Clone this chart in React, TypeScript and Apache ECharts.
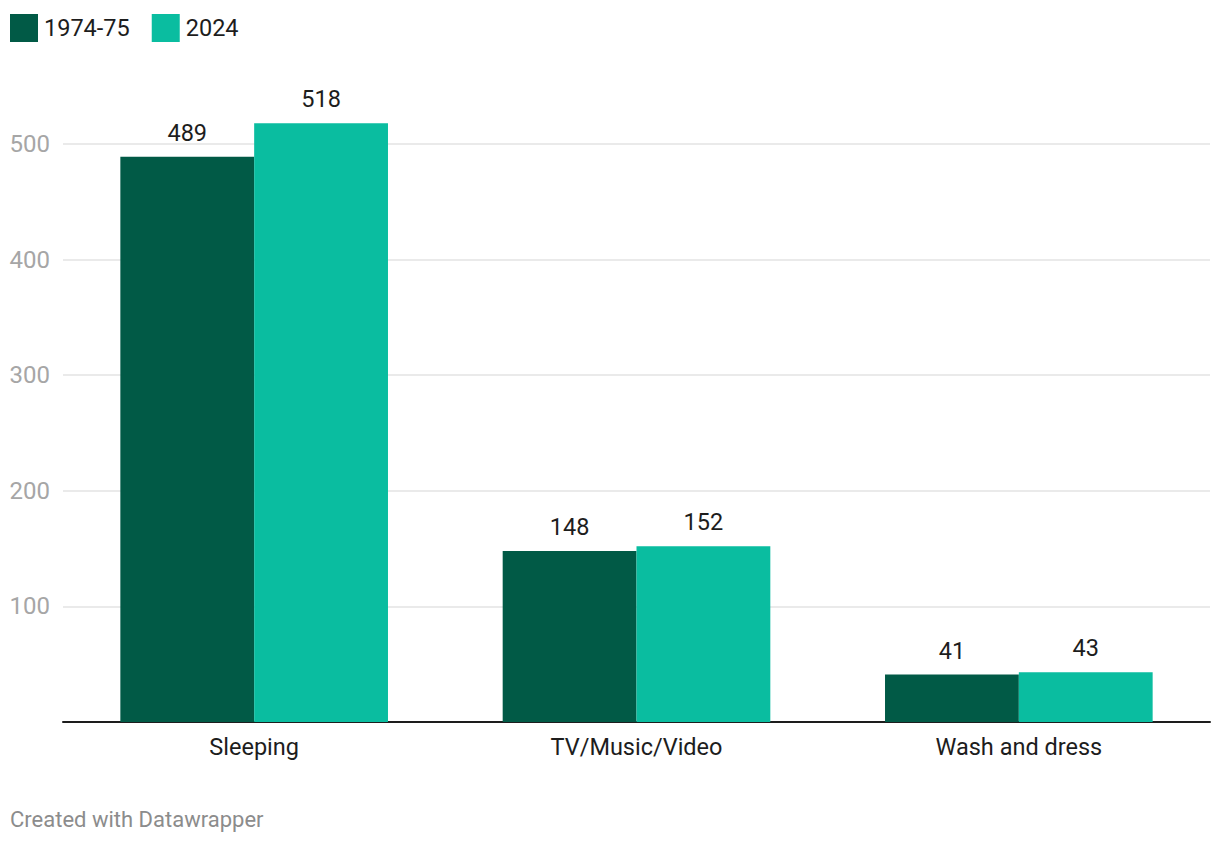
import React, { useEffect, useRef } from "react";
import * as echarts from "echarts";

const categories = ["Sleeping", "TV/Music/Video", "Wash and dress"];
const series1974 = [489, 148, 41];
const series2024 = [518, 152, 43];
const seriesNames = ["1974-75", "2024"];
const yTicks = [0, 100, 200, 300, 400, 500];

const FONT = "Roboto, 'Noto Sans', sans-serif";

export default function App() {
  const ref = useRef<HTMLDivElement>(null);
  useEffect(() => {
    if (!ref.current) return;
    const chart = echarts.init(ref.current, undefined, { renderer: "svg" });
    chart.setOption({
      animation: false,
      backgroundColor: "#ffffff",
      textStyle: { fontFamily: FONT },
      legend: {
        left: 5,
        top: 9,
        icon: "rect",
        itemWidth: 28,
        itemHeight: 28,
        itemGap: 22,
        data: seriesNames,
        textStyle: { fontSize: 23.5, color: "#1d1d1d", fontFamily: FONT, padding: [0, 0, 0, 1] },
      },
      grid: { left: 63, right: 10, top: 144, bottom: 122, containLabel: false },
      xAxis: {
        type: "category",
        data: categories,
        axisLine: { show: true, lineStyle: { color: "#1d1d1d", width: 2 } },
        axisTick: { show: false },
        axisLabel: { fontSize: 23.5, color: "#1d1d1d", margin: 13, fontFamily: FONT },
      },
      yAxis: {
        type: "value",
        min: yTicks[0],
        max: yTicks[yTicks.length - 1],
        interval: 100,
        axisLine: { show: false },
        axisTick: { show: false },
        splitLine: { lineStyle: { color: "#e3e3e3", width: 1.5 } },
        axisLabel: {
          fontSize: 24,
          color: "#a6a6a6",
          margin: 13,
          fontFamily: FONT,
          formatter: (v: number) => (v === 0 ? "" : String(v)),
        },
      },
      series: [
        {
          name: seriesNames[0],
          type: "bar",
          data: series1974,
          clip: false,
          barGap: "0%",
          barCategoryGap: "30%",
          itemStyle: { color: "#015a46", borderWidth: 0 },
          label: { show: true, position: "top", distance: 12, fontSize: 23.5, color: "#1d1d1d", fontFamily: FONT },
        },
        {
          name: seriesNames[1],
          type: "bar",
          data: series2024,
          clip: false,
          barGap: "0%",
          barCategoryGap: "30%",
          itemStyle: { color: "#0abda0", borderWidth: 0 },
          label: { show: true, position: "top", distance: 12, fontSize: 23.5, color: "#1d1d1d", fontFamily: FONT },
        },
      ],
      graphic: [
        {
          type: "text",
          left: 10,
          top: 808,
          style: { text: "Created with Datawrapper", fontSize: 22, fill: "#8c8c8c", fontFamily: FONT },
        },
      ],
    });
    return () => chart.dispose();
  }, []);
  return (
    <div
      ref={ref}
      style={{ position: "fixed", left: 0, top: 0, width: 1220, height: 844, background: "#fff" }}
    />
  );
}
